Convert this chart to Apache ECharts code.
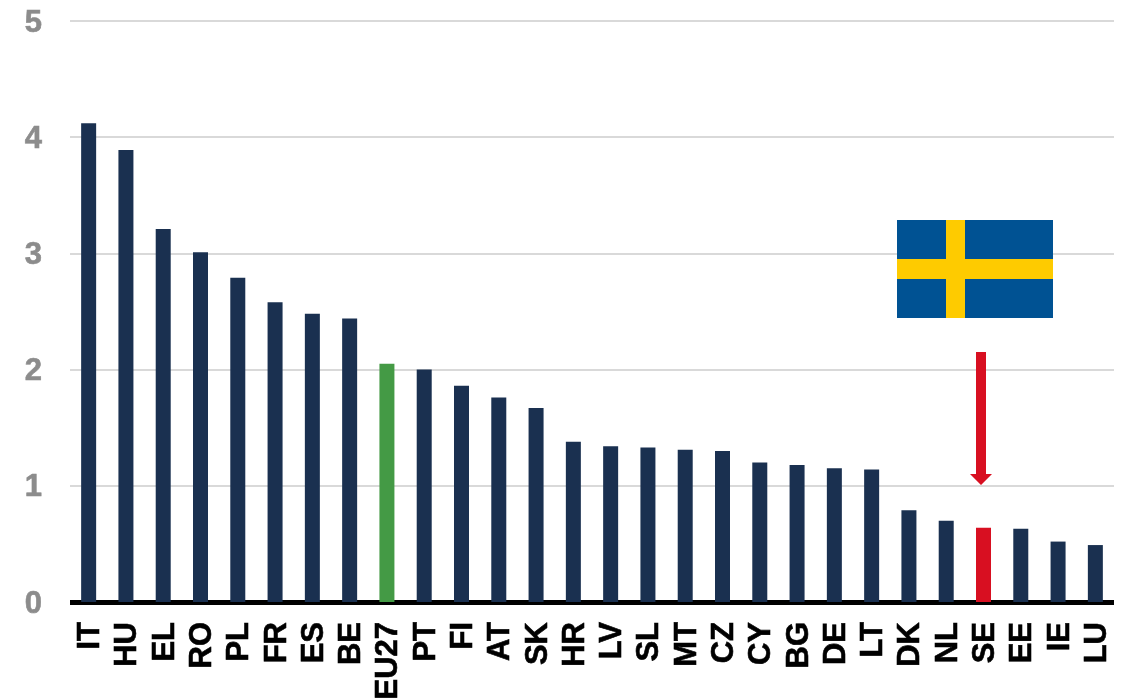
<!DOCTYPE html>
<html>
<head>
<meta charset="utf-8">
<style>html,body{margin:0;padding:0;background:#fff;overflow:hidden}#c{width:1125px;height:698px}</style>
<script src="https://cdn.jsdelivr.net/npm/echarts@6/dist/echarts.min.js"></script>
</head>
<body>
<div id="c"></div>
<script>
const categories = ['IT','HU','EL','RO','PL','FR','ES','BE','EU27','PT','FI','AT','SK','HR','LV','SL','MT','CZ','CY','BG','DE','LT','DK','NL','SE','EE','IE','LU'];
const values = [4.12,3.89,3.21,3.01,2.79,2.58,2.48,2.44,2.05,2.0,1.86,1.76,1.67,1.38,1.34,1.33,1.31,1.30,1.2,1.18,1.15,1.14,0.79,0.70,0.64,0.63,0.52,0.49];
const NAVY = '#1a3050', GREEN = '#449a45', RED = '#d80f21';
const highlight = {EU27: GREEN, SE: RED};

const chart = echarts.init(document.getElementById('c'), null, {renderer: 'canvas'});
chart.setOption({
  animation: false,
  backgroundColor: '#fff',
  grid: {left: 70, right: 11, top: 21, bottom: 96, outerBoundsMode: 'none'},
  xAxis: {
    type: 'category',
    data: categories,
    axisTick: {show: false},
    axisLine: {lineStyle: {color: '#000', width: 5, cap: 'butt'}},
    axisLabel: {
      rotate: 90, interval: 0, margin: 20, color: '#000',
      verticalAlign: 'top', lineHeight: 4,
      textBorderColor: '#000', textBorderWidth: 0.6,
      fontFamily: 'Liberation Sans', fontWeight: 'bold', fontSize: 31
    }
  },
  yAxis: {
    type: 'value', min: 0, max: 5, interval: 1,
    axisLine: {show: false}, axisTick: {show: false},
    splitLine: {lineStyle: {color: '#d9d9d9', width: 2}},
    axisLabel: {
      margin: 28, color: '#8c8c8c',
      verticalAlign: 'top', lineHeight: 4,
      textBorderColor: '#8c8c8c', textBorderWidth: 0.6,
      fontFamily: 'Liberation Sans', fontWeight: 'bold', fontSize: 31
    }
  },
  series: [{
    type: 'bar',
    barWidth: 15,
    data: values.map((v, i) => ({
      value: v,
      itemStyle: {color: highlight[categories[i]] || NAVY}
    }))
  }],
  graphic: [
    {type: 'rect', z: 10, shape: {x: 897, y: 220, width: 156, height: 98}, style: {fill: '#005293'}},
    {type: 'rect', z: 11, shape: {x: 946, y: 220, width: 19, height: 98}, style: {fill: '#fecb00'}},
    {type: 'rect', z: 11, shape: {x: 897, y: 259, width: 156, height: 20}, style: {fill: '#fecb00'}},
    {type: 'polygon', z: 10, shape: {points: [[976,352],[986,352],[986,474],[992,474],[981,485],[970,474],[976,474]]}, style: {fill: RED}}
  ]
});
</script>
</body>
</html>
